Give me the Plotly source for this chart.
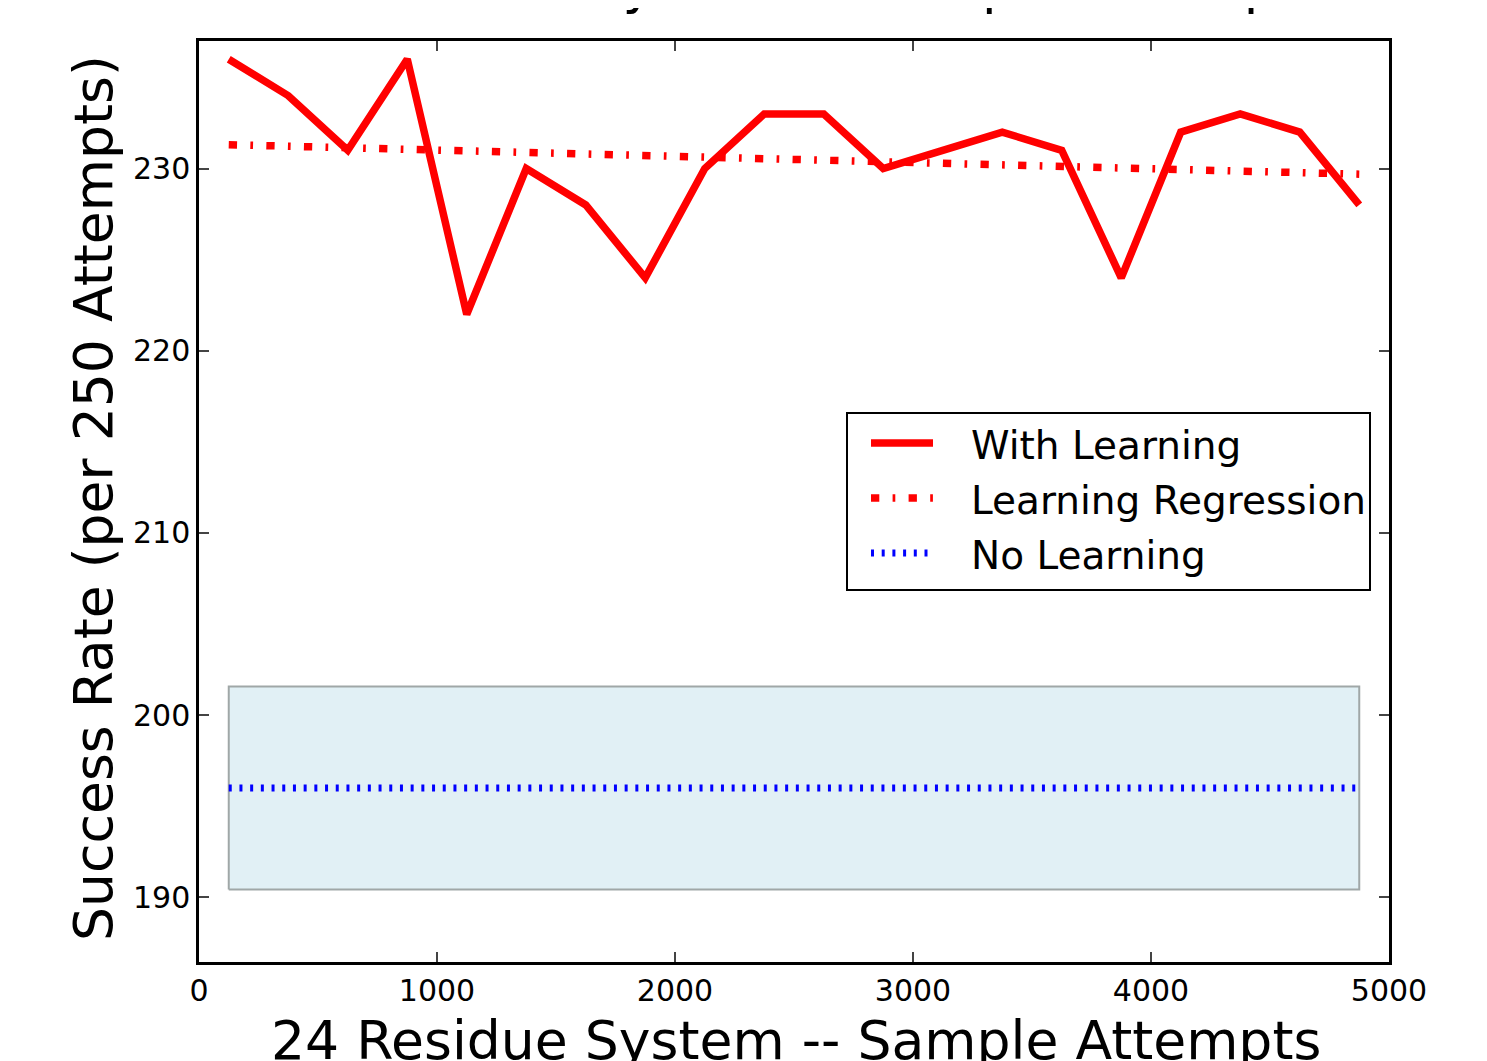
import plotly.graph_objects as go

# ---------------- data ----------------
sample_attempts = [125, 375, 625, 875, 1125, 1375, 1625, 1875, 2125, 2375,
                   2625, 2875, 3125, 3375, 3625, 3875, 4125, 4375, 4625, 4875]
with_learning = [236, 234, 231, 236, 222, 230, 228, 224, 230, 233,
                 233, 230, 231, 232, 231, 224, 232, 233, 232, 228]
regression_x = [125, 4875]
regression_y = [231.31, 229.69]
no_learning_x = [125, 4875]
no_learning_mean = [196.0, 196.0]
no_learning_low = 190.43
no_learning_high = 201.57

x_ticks = [0, 1000, 2000, 3000, 4000, 5000]
y_ticks = [190, 200, 210, 220, 230]

title_text = "Model Efficacy Across Sample Attempts"
x_label = "24 Residue System -- Sample Attempts"
y_label = "Success Rate (per 250 Attempts)"
legend_labels = ["With Learning", "Learning Regression", "No Learning"]

# ---------------- layout geometry (screen pixels) ----------------
WIN_W, WIN_H = 1487, 1061
OFF = 8  # default page body margin
W, H = WIN_W - OFF, WIN_H - OFF
L, R, T, B = 199, 1389, 41, 962  # plot area in screen pixels
FONT = "DejaVu Sans"
BIG = 53.6


def px(xp):
    return (xp - L) / (R - L)


def py(yp):
    return (B - yp) / (B - T)


fig = go.Figure()

# No-learning band (closed polygon)
band_x = [no_learning_x[0], no_learning_x[1], no_learning_x[1], no_learning_x[0], no_learning_x[0]]
band_y = [no_learning_low, no_learning_low, no_learning_high, no_learning_high, no_learning_low]
fig.add_trace(go.Scatter(
    x=band_x, y=band_y, mode="lines", fill="toself",
    fillcolor="rgb(225,240,245)",
    line=dict(color="rgb(160,167,167)", width=2),
    hoverinfo="skip", showlegend=False))

# No learning dotted line
fig.add_trace(go.Scatter(
    x=no_learning_x, y=no_learning_mean, mode="lines",
    line=dict(color="#0000ff", width=7, dash="3px,7.7px"),
    name=legend_labels[2], showlegend=False))

# Regression dash-dot
fig.add_trace(go.Scatter(
    x=regression_x, y=regression_y, mode="lines",
    line=dict(color="#ff0000", width=7.5, dash="8.3px,13.3px,2.7px,13.3px"),
    name=legend_labels[1], showlegend=False))

# With learning
fig.add_trace(go.Scatter(
    x=sample_attempts, y=with_learning, mode="lines",
    line=dict(color="#ff0000", width=7.5),
    name=legend_labels[0], showlegend=False))

axis_common = dict(
    showline=True, linecolor="black", linewidth=2.5, mirror="ticks",
    ticks="inside", ticklen=10, tickwidth=1.5, tickcolor="#444444",
    showgrid=False, zeroline=False,
    tickfont=dict(family=FONT, size=30, color="black"),
)

fig.update_xaxes(range=[0, 5000], tickvals=x_ticks,
                 ticktext=[str(v) for v in x_ticks], **axis_common)
fig.update_yaxes(range=[186.45, 237], tickvals=y_ticks,
                 ticktext=[str(v) for v in y_ticks], **axis_common)

annotations = [
    # title (mostly above the canvas, as in the reference)
    dict(text=title_text, xref="paper", yref="paper", x=px(797), y=py(-15),
         xanchor="center", yanchor="middle", showarrow=False,
         font=dict(family=FONT, size=BIG, color="black")),
    # axis titles
    dict(text=x_label, xref="paper", yref="paper", x=px(796), y=py(1040),
         xanchor="center", yanchor="middle", showarrow=False,
         font=dict(family=FONT, size=BIG, color="black")),
    dict(text=y_label, xref="paper", yref="paper", x=px(93), y=py(498),
         xanchor="center", yanchor="middle", showarrow=False, textangle=-90,
         font=dict(family=FONT, size=BIG, color="black")),
]

# manual legend
leg_x0, leg_x1, leg_y0, leg_y1 = 847, 1370, 413, 590
shapes = [dict(type="rect", xref="paper", yref="paper",
               x0=px(leg_x0), x1=px(leg_x1), y0=py(leg_y1), y1=py(leg_y0),
               line=dict(color="black", width=2), fillcolor="white", layer="above")]
row_y = [443, 498, 553]
styles = [dict(color="#ff0000", width=7.5),
          dict(color="#ff0000", width=7.5, dash="8.3px,13.3px,2.7px,13.3px"),
          dict(color="#0000ff", width=7, dash="3px,7.7px")]
for lab, yy, st in zip(legend_labels, row_y, styles):
    shapes.append(dict(type="line", xref="paper", yref="paper",
                       x0=px(871), x1=px(933), y0=py(yy), y1=py(yy),
                       line=st, layer="above"))
    annotations.append(dict(text=lab, xref="paper", yref="paper",
                            x=px(969), y=py(yy + 2), xanchor="left", yanchor="middle",
                            showarrow=False,
                            font=dict(family=FONT, size=39, color="black")))

fig.update_layout(
    width=W, height=H,
    margin=dict(l=L - OFF, r=WIN_W - R, t=T - OFF, b=WIN_H - B, pad=0),
    paper_bgcolor="white", plot_bgcolor="white",
    showlegend=False,
    annotations=annotations, shapes=shapes,
    font=dict(family=FONT, color="black"),
)

fig.write_html("out.html")
